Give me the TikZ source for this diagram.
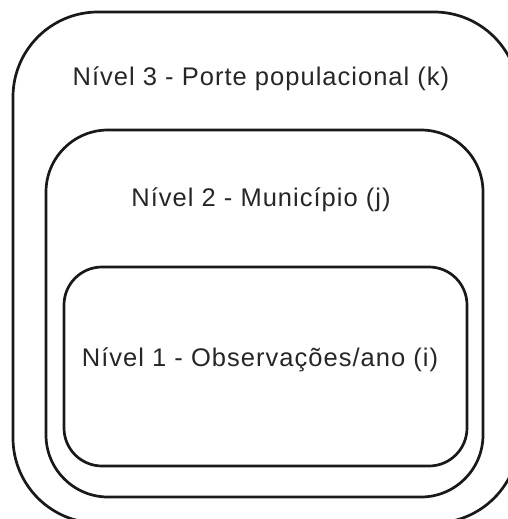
\documentclass[tikz,border=0pt]{standalone}
\usepackage{fontspec}
\setmainfont[LetterSpace=4]{Liberation Sans}
\begin{document}
\begin{tikzpicture}[x=1pt,y=-1pt,
  lvl/.style={draw=black!90, line width=2.7pt, fill=none},
  lbl/.style={font=\fontsize{25.5}{30}\selectfont, text=black!85, inner sep=0pt, anchor=base}]
\useasboundingbox (0,0) rectangle (508,519);
\clip (0,0) rectangle (508,519);
\node[lvl, rounded corners=85pt, minimum width=506pt, minimum height=511pt] (outer) at (266,267.5) {};
\node[lvl, rounded corners=62pt, minimum width=437pt, minimum height=367pt] (middle) at (264.5,313.5) {};
\node[lvl, rounded corners=38pt, minimum width=403pt, minimum height=199pt] (inner) at (265.5,366.5) {};
\node[lbl] (t3) at (261,85) {Nível 3 - Porte populacional (k)};
\node[lbl] (t2) at (261,206) {Nível 2 - Município (j)};
\node[lbl] (t1) at (260,366) {Nível 1 - Observações/ano (i)};
\end{tikzpicture}
\end{document}
